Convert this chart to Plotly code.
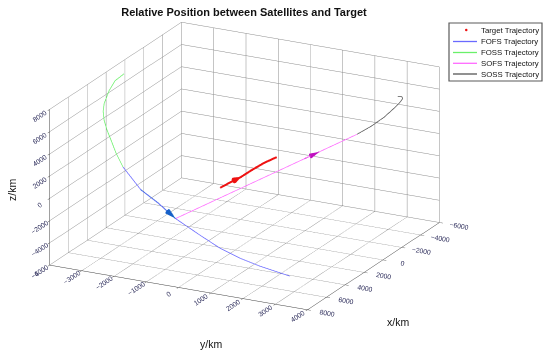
import plotly.graph_objects as go

# ---------------- data (km) ----------------
# FOSS trajectory (green)
foss_x = [1000, 1500, 2000, 3000, 3250, 3500, 3750, 4000, 4250, 4500]
foss_y = [-3738, -3869, -3908, -3769, -3727, -3623, -3458, -3262, -3035, -2746]
foss_z = [7418, 7008, 6377, 5848, 5296, 4685, 4016, 3363, 2458, 1495]

# FOFS trajectory (blue)
fofs_x = [4500, 5000, 5300, 5600, 6000, 6300, 6600, 6900, 7200]
fofs_y = [-2746, -2046, -1435, -794, 92, 795, 1498, 2202, 3212]
fofs_z = [1495, 75, -609, -1547, -2393, -3033, -3403, -3596, -3812]

# SOFS trajectory (magenta)
sofs_x = [5600, -506, -1211, -3000]
sofs_y = [-794, 1419, 1675, 2323]
sofs_z = [-1547, 1522, 1877, 2776]

# SOSS trajectory (gray)
soss_x = [-3000, -3400, -3800, -4200, -4500, -4700, -4800, -4800]
soss_y = [2323, 2637, 2920, 3111, 3208, 3242, 3182, 3058]
soss_z = [2776, 3423, 4143, 4817, 5232, 5495, 5587, 5524]

# Target trajectory (red)
tgt_x = [2896, 1899, 1050, -72, -1217, -2257]
tgt_y = [-200, -152, -93, -83, -48, 48]
tgt_z = [0, 0, 0, 0, 0, 0]

x_range = [-6000, 8000]
y_range = [-4000, 4000]
z_range = [-6000, 8000]
x_ticks = [-6000, -4000, -2000, 0, 2000, 4000, 6000, 8000]
y_ticks = [-4000, -3000, -2000, -1000, 0, 1000, 2000, 3000, 4000]
z_ticks = [-6000, -4000, -2000, 0, 2000, 4000, 6000, 8000]

legend_names = ["Target Trajectory", "FOFS Trajectory", "FOSS Trajectory",
                "SOFS Trajectory", "SOSS Trajectory"]
legend_colors = ["#ee1111", "#6a6aff", "#6af06a", "#ff6aff", "#555555"]

FONT = "Liberation Sans, Arial, sans-serif"
TICKC = "#2e2e5c"
W, H = 550, 357

fig = go.Figure()


def line(xs, ys, zs, color, width, name):
    fig.add_trace(go.Scatter3d(x=xs, y=ys, z=zs, mode="lines", name=name,
                               line=dict(color=color, width=width),
                               showlegend=False, hoverinfo="skip"))


def cone(xs, ys, zs, i, color, size):
    u = xs[i] - xs[i - 1]
    v = ys[i] - ys[i - 1]
    w = zs[i] - zs[i - 1]
    fig.add_trace(go.Cone(x=[xs[i]], y=[ys[i]], z=[zs[i]], u=[u], v=[v], w=[w],
                          anchor="tip", sizemode="raw", sizeref=size,
                          colorscale=[[0, color], [1, color]], showscale=False,
                          lighting=dict(ambient=1, diffuse=0, specular=0,
                                        roughness=1, fresnel=0),
                          hoverinfo="skip"))


line(foss_x, foss_y, foss_z, "#6af06a", 1.5, "FOSS Trajectory")
line(fofs_x, fofs_y, fofs_z, "#6a6aff", 1.5, "FOFS Trajectory")
line(fofs_x[1:4], fofs_y[1:4], fofs_z[1:4], "#1560c8", 2, "FOFS arrow")
line(sofs_x, sofs_y, sofs_z, "#ff6aff", 1.5, "SOFS Trajectory")
line(sofs_x[1:3], sofs_y[1:3], sofs_z[1:3], "#c010c0", 2, "SOFS arrow")
line(soss_x, soss_y, soss_z, "#555555", 1.5, "SOSS Trajectory")
line(tgt_x, tgt_y, tgt_z, "#ee1111", 4, "Target Trajectory")

cone(fofs_x, fofs_y, fofs_z, 3, "#1560c8", 0.45)
cone(sofs_x, sofs_y, sofs_z, 2, "#c010c0", 0.6)
cone(tgt_x, tgt_y, tgt_z, 2, "#ee1111", 0.7)

axis_common = dict(showbackground=False, gridcolor="#8c8c8c", gridwidth=1,
                   showline=True, linecolor="#404040", linewidth=1,
                   zeroline=False, showspikes=False, ticks="outside",
                   ticklen=4, tickcolor="#404040",
                   tickfont=dict(family=FONT, size=9, color=TICKC),
                   title=dict(text=""))

eye_dir = (0.8378, 0.4285, 0.3384)
k = 1.5
S = 1.745

fig.update_layout(
    width=W, height=H,
    margin=dict(l=0, r=0, t=0, b=0),
    paper_bgcolor="white",
    showlegend=False,
    title=dict(text="<b>Relative Position between Satellites and Target</b>",
               x=244 / W, xanchor="center", y=1 - 12.5 / H, yanchor="middle",
               yref="container", font=dict(family=FONT, size=11, color="#111111")),
    scene=dict(
        domain=dict(x=[0.0, 0.889], y=[0.07, 1.0]),
        xaxis=dict(range=x_range, tickvals=x_ticks, **axis_common),
        yaxis=dict(range=y_range, tickvals=y_ticks, **axis_common),
        zaxis=dict(range=z_range, tickvals=z_ticks, **axis_common),
        aspectmode="manual",
        aspectratio=dict(x=S, y=S, z=0.571 * S),
        camera=dict(eye=dict(x=k * eye_dir[0], y=k * eye_dir[1], z=k * eye_dir[2]),
                    up=dict(x=0, y=0, z=1), center=dict(x=0, y=0, z=0),
                    projection=dict(type="orthographic")),
        bgcolor="white",
    ),
)


def px(x):
    return x / W


def py(y):
    return 1 - y / H


# axis titles
fig.add_annotation(text="z/km", x=px(12), y=py(190), xref="paper", yref="paper",
                   xanchor="center", yanchor="middle",
                   textangle=-90, showarrow=False,
                   font=dict(family=FONT, size=10.5, color="#111111"))
fig.add_annotation(text="y/km", x=px(211), y=py(344), xref="paper", yref="paper",
                   xanchor="center", yanchor="middle",
                   showarrow=False, font=dict(family=FONT, size=10.5, color="#111111"))
fig.add_annotation(text="x/km", x=px(398), y=py(322), xref="paper", yref="paper",
                   xanchor="center", yanchor="middle",
                   showarrow=False, font=dict(family=FONT, size=10.5, color="#111111"))

# custom legend box
fig.add_shape(type="rect", xref="paper", yref="paper",
              x0=px(449), x1=px(542), y0=py(81), y1=py(23),
              line=dict(color="#5a5a5a", width=1.2), fillcolor="white")
row_y = [30, 41.5, 52.5, 63.3, 74]
for i, (nm, col) in enumerate(zip(legend_names, legend_colors)):
    yy = py(row_y[i])
    if i == 0:
        fig.add_shape(type="circle", xref="paper", yref="paper",
                      x0=px(465), x1=px(467.5), y0=py(row_y[i] + 1.25), y1=py(row_y[i] - 1.25),
                      line=dict(color=col, width=0), fillcolor=col)
    else:
        fig.add_shape(type="line", xref="paper", yref="paper",
                      x0=px(453), x1=px(477), y0=yy, y1=yy,
                      line=dict(color=col, width=1.3))
    fig.add_annotation(text=nm, x=px(479), y=yy, xref="paper", yref="paper",
                       xanchor="left", yanchor="middle", showarrow=False,
                       font=dict(family=FONT, size=7.8, color="#111111"))

fig.write_html("out.html", config={"displayModeBar": False},
               post_script="document.body.style.margin='0px';")
